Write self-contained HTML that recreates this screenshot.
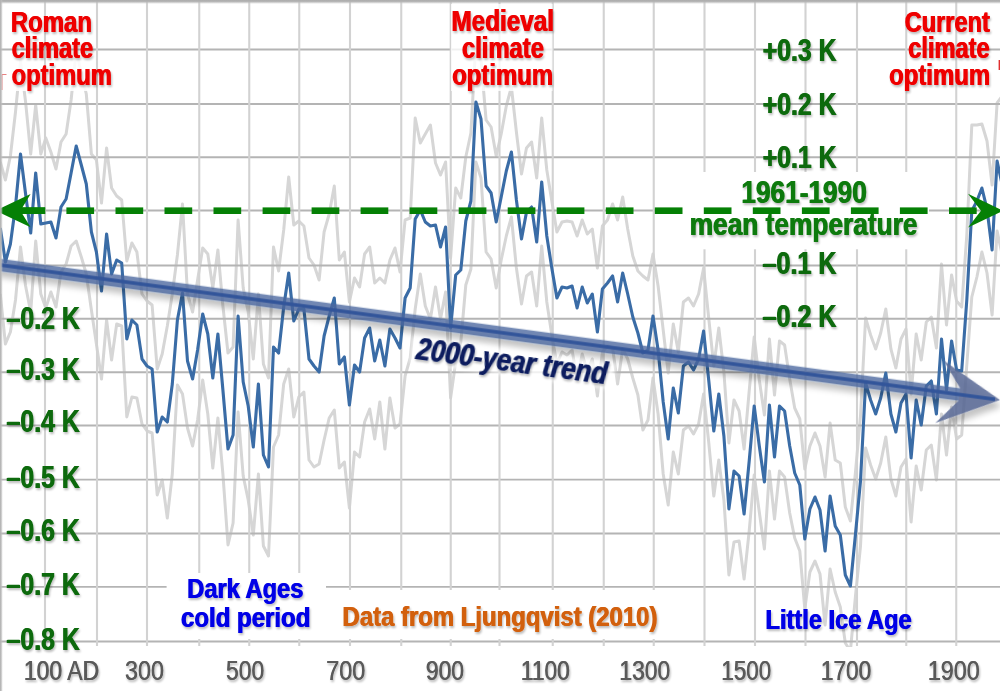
<!DOCTYPE html><html><head><meta charset="utf-8"><title>Chart</title>
<style>html,body{margin:0;padding:0;background:#fff;}body{width:1000px;height:691px;overflow:hidden;}svg{display:block;}text{font-family:"Liberation Sans",sans-serif;}</style></head><body>
<svg width="1000" height="691" viewBox="0 0 1000 691">
<defs>
<filter id="sh" x="-10%" y="-20%" width="120%" height="150%"><feGaussianBlur in="SourceAlpha" stdDeviation="0.9"/><feOffset dx="1.2" dy="1.5"/><feComponentTransfer><feFuncA type="linear" slope="0.27"/></feComponentTransfer><feMerge><feMergeNode/><feMergeNode in="SourceGraphic"/></feMerge></filter>
<filter id="sh2" x="-5%" y="-50%" width="110%" height="250%"><feGaussianBlur in="SourceAlpha" stdDeviation="3"/><feOffset dx="3" dy="6"/><feComponentTransfer><feFuncA type="linear" slope="0.28"/></feComponentTransfer><feMerge><feMergeNode/><feMergeNode in="SourceGraphic"/></feMerge></filter>
<filter id="bl" x="-10%" y="-40%" width="120%" height="180%"><feGaussianBlur stdDeviation="2.2"/></filter>
<linearGradient id="gt" x1="0" y1="0" x2="0" y2="1"><stop offset="0" stop-color="#ababab" stop-opacity="1"/><stop offset="0.45" stop-color="#b4b4b4" stop-opacity="0.95"/><stop offset="1" stop-color="#c8c8c8" stop-opacity="0"/></linearGradient>
<linearGradient id="gl" x1="0" y1="0" x2="1" y2="0"><stop offset="0" stop-color="#b0b0b0" stop-opacity="1"/><stop offset="0.4" stop-color="#b8b8b8" stop-opacity="0.9"/><stop offset="1" stop-color="#cccccc" stop-opacity="0"/></linearGradient>
</defs>
<rect width="1000" height="691" fill="#fff"/>
<polyline points="0.3,162.0 5.4,180.0 10.4,156.0 15.5,112.0 20.5,61.0 25.6,102.0 30.7,154.0 35.7,105.0 40.8,154.0 45.8,138.0 50.9,152.0 56.0,169.0 61.0,142.0 66.1,134.0 71.1,100.0 76.2,51.0 81.3,73.0 86.3,94.0 91.4,154.0 96.4,160.0 101.5,203.0 106.6,148.0 111.6,188.0 116.7,196.0 121.7,200.0 126.8,261.0 131.9,243.0 136.9,252.0 142.0,294.0 147.0,301.0 152.1,305.0 157.2,369.0 162.2,354.0 167.3,326.0 172.3,294.0 177.4,255.0 182.5,204.0 187.5,294.0 192.6,312.0 197.6,280.0 202.7,248.0 207.8,254.0 212.8,288.0 217.9,250.0 222.9,306.0 228.0,353.0 233.1,347.0 238.1,220.0 243.2,288.0 248.2,312.0 253.3,359.0 258.4,294.0 263.4,364.0 268.5,378.0 273.5,247.0 278.6,271.0 283.7,230.0 288.7,177.0 293.8,225.0 298.8,221.0 303.9,226.0 309.0,258.0 314.0,265.0 319.1,280.0 324.1,232.0 329.2,214.0 334.3,186.0 339.3,260.0 344.4,252.0 349.4,302.0 354.5,278.0 359.6,287.0 364.6,254.0 369.7,247.0 374.7,283.0 379.8,278.0 384.9,283.0 389.9,260.0 395.0,248.0 400.0,272.0 405.1,220.0 410.2,218.0 415.2,118.0 420.3,143.0 425.3,134.0 430.4,125.0 435.5,163.0 440.5,175.0 445.6,162.0 450.6,258.0 455.7,188.0 460.8,198.0 465.8,157.0 470.9,133.0 475.9,42.0 481.0,60.0 486.1,120.0 491.1,127.0 496.2,156.0 501.2,134.0 506.3,106.0 511.4,87.0 516.4,132.0 521.5,174.0 526.5,148.0 531.6,142.0 536.7,178.0 541.7,118.0 546.8,170.0 551.8,201.0 556.9,232.0 562.0,222.0 567.0,221.0 572.1,222.0 577.1,236.0 582.2,220.0 587.3,234.0 592.3,229.0 597.4,268.0 602.4,226.0 607.5,220.0 612.6,204.0 617.6,220.0 622.7,197.0 627.7,229.0 632.8,256.0 637.9,271.0 642.9,276.0 648.0,280.0 653.0,254.0 658.1,286.0 663.2,330.0 668.2,373.0 673.3,324.0 678.3,352.0 683.4,302.0 688.5,298.0 693.5,306.0 698.6,294.0 703.6,268.0 708.7,318.0 713.8,366.0 718.8,328.0 723.9,372.0 728.9,443.0 734.0,400.0 739.1,411.0 744.1,449.0 749.2,391.0 754.2,337.0 759.3,380.0 764.4,415.0 769.4,339.0 774.5,395.0 779.5,341.0 784.6,345.0 789.7,379.0 794.7,408.0 799.8,419.0 804.8,469.0 809.9,446.0 815.0,433.0 820.0,446.0 825.1,477.0 830.1,423.0 835.2,460.0 840.3,463.0 845.3,507.0 850.4,521.0 855.4,473.0 860.5,416.0 865.6,318.0 870.6,335.0 875.7,349.0 880.7,333.0 885.8,309.0 890.9,349.0 895.9,368.0 901.0,339.0 906.0,329.0 911.1,394.0 916.2,334.0 921.2,360.0 926.3,322.0 931.3,317.0 936.4,348.0 941.5,264.0 946.5,325.0 951.6,275.0 956.6,301.0 961.7,307.0 966.8,235.0 971.8,125.0 976.9,125.0 981.9,124.0 987.0,141.0 992.1,185.0 997.1,103.0 1002.2,96.0" fill="none" stroke="#d6d6d6" stroke-width="3" stroke-linejoin="round"/>
<polyline points="0.3,294.0 5.4,344.0 10.4,332.0 15.5,300.0 20.5,247.0 25.6,286.0 30.7,312.0 35.7,241.0 40.8,294.0 45.8,308.0 50.9,292.0 56.0,307.0 61.0,272.0 66.1,264.0 71.1,246.0 76.2,241.0 81.3,257.0 86.3,274.0 91.4,310.0 96.4,344.0 101.5,379.0 106.6,320.0 111.6,360.0 116.7,324.0 121.7,326.0 126.8,417.0 131.9,397.0 136.9,398.0 142.0,424.0 147.0,431.0 152.1,433.0 157.2,495.0 162.2,480.0 167.3,518.0 172.3,474.0 177.4,385.0 182.5,394.0 187.5,428.0 192.6,446.0 197.6,420.0 202.7,380.0 207.8,414.0 212.8,468.0 217.9,418.0 222.9,474.0 228.0,545.0 233.1,523.0 238.1,412.0 243.2,476.0 248.2,500.0 253.3,535.0 258.4,474.0 263.4,546.0 268.5,556.0 273.5,447.0 278.6,435.0 283.7,384.0 288.7,369.0 293.8,417.0 298.8,397.0 303.9,392.0 309.0,460.0 314.0,467.0 319.1,464.0 324.1,440.0 329.2,418.0 334.3,410.0 339.3,468.0 344.4,462.0 349.4,508.0 354.5,452.0 359.6,457.0 364.6,422.0 369.7,409.0 374.7,439.0 379.8,402.0 384.9,449.0 389.9,398.0 395.0,428.0 400.0,424.0 405.1,376.0 410.2,358.0 415.2,309.0 420.3,274.0 425.3,306.0 430.4,319.0 435.5,287.0 440.5,319.0 445.6,292.0 450.6,398.0 455.7,362.0 460.8,342.0 465.8,285.0 470.9,269.0 475.9,162.0 481.0,178.0 486.1,252.0 491.1,259.0 496.2,288.0 501.2,260.0 506.3,236.0 511.4,217.0 516.4,268.0 521.5,304.0 526.5,276.0 531.6,272.0 536.7,306.0 541.7,246.0 546.8,302.0 551.8,335.0 556.9,364.0 562.0,352.0 567.0,355.0 572.1,350.0 577.1,380.0 582.2,354.0 587.3,372.0 592.3,359.0 597.4,396.0 602.4,352.0 607.5,346.0 612.6,348.0 617.6,384.0 622.7,349.0 627.7,359.0 632.8,378.0 637.9,395.0 642.9,430.0 648.0,420.0 653.0,378.0 658.1,414.0 663.2,474.0 668.2,505.0 673.3,452.0 678.3,474.0 683.4,430.0 688.5,426.0 693.5,434.0 698.6,424.0 703.6,394.0 708.7,442.0 713.8,496.0 718.8,460.0 723.9,500.0 728.9,575.0 734.0,542.0 739.1,541.0 744.1,579.0 749.2,531.0 754.2,475.0 759.3,512.0 764.4,549.0 769.4,471.0 774.5,519.0 779.5,471.0 784.6,477.0 789.7,513.0 794.7,538.0 799.8,551.0 804.8,609.0 809.9,572.0 815.0,561.0 820.0,574.0 825.1,625.0 830.1,569.0 835.2,592.0 840.3,607.0 845.3,643.0 850.4,651.0 855.4,597.0 860.5,546.0 865.6,448.0 870.6,465.0 875.7,479.0 880.7,463.0 885.8,437.0 890.9,479.0 895.9,496.0 901.0,467.0 906.0,459.0 911.1,522.0 916.2,466.0 921.2,490.0 926.3,450.0 931.3,445.0 936.4,480.0 941.5,414.0 946.5,455.0 951.6,407.0 956.6,439.0 961.7,435.0 966.8,365.0 971.8,297.0 976.9,277.0 981.9,252.0 987.0,273.0 992.1,315.0 997.1,231.0 1002.2,255.0" fill="none" stroke="#d6d6d6" stroke-width="3" stroke-linejoin="round"/>
<rect x="4" y="4" width="112" height="87" fill="#fff" fill-opacity="0.88"/>
<rect x="884" y="4" width="116" height="87" fill="#fff" fill-opacity="0.88"/>
<g stroke="#b4b4b4" stroke-width="1.9" fill="none">
<line x1="0" y1="49.5" x2="1000" y2="49.5"/>
<line x1="0" y1="104.0" x2="1000" y2="104.0"/>
<line x1="0" y1="157.3" x2="1000" y2="157.3"/>
<line x1="0" y1="210.5" x2="1000" y2="210.5"/>
<line x1="0" y1="265.5" x2="1000" y2="265.5"/>
<line x1="0" y1="318.8" x2="1000" y2="318.8"/>
<line x1="0" y1="372.2" x2="1000" y2="372.2"/>
<line x1="0" y1="425.5" x2="1000" y2="425.5"/>
<line x1="0" y1="479.6" x2="1000" y2="479.6"/>
<line x1="0" y1="533.5" x2="1000" y2="533.5"/>
<line x1="0" y1="586.9" x2="1000" y2="586.9"/>
<line x1="0" y1="641.5" x2="1000" y2="641.5"/>
</g>
<g stroke="#d2d2d2" stroke-width="2.1" fill="none">
<line x1="45" y1="0" x2="45" y2="646"/>
<line x1="97" y1="0" x2="97" y2="646"/>
<line x1="147" y1="0" x2="147" y2="646"/>
<line x1="199.25" y1="0" x2="199.25" y2="646"/>
<line x1="249.25" y1="0" x2="249.25" y2="646"/>
<line x1="299.25" y1="0" x2="299.25" y2="646"/>
<line x1="350" y1="0" x2="350" y2="646"/>
<line x1="401.25" y1="0" x2="401.25" y2="646"/>
<line x1="450.75" y1="0" x2="450.75" y2="646"/>
<line x1="499.5" y1="0" x2="499.5" y2="646"/>
<line x1="552.75" y1="0" x2="552.75" y2="646"/>
<line x1="603.75" y1="0" x2="603.75" y2="646"/>
<line x1="653.75" y1="0" x2="653.75" y2="646"/>
<line x1="704.5" y1="0" x2="704.5" y2="646"/>
<line x1="755" y1="0" x2="755" y2="646"/>
<line x1="805.5" y1="0" x2="805.5" y2="646"/>
<line x1="857" y1="0" x2="857" y2="646"/>
<line x1="906.25" y1="0" x2="906.25" y2="646"/>
<line x1="956.25" y1="0" x2="956.25" y2="646"/>
</g>
<rect x="451" y="4" width="101.5" height="87" fill="#fff" fill-opacity="0.8"/>
<rect x="655" y="172" width="274" height="77.3" fill="#fff" fill-opacity="1"/>
<rect x="166.6" y="573" width="159.4" height="66" fill="#fff" fill-opacity="1"/>
<rect x="330" y="590" width="336" height="49" fill="#fff" fill-opacity="1"/>
<rect x="0" y="647" width="1000" height="44" fill="#fff"/>
<polyline points="0.3,228.0 5.4,262.0 10.4,244.0 15.5,206.0 20.5,154.0 25.6,194.0 30.7,233.0 35.7,173.0 40.8,224.0 45.8,223.0 50.9,222.0 56.0,238.0 61.0,207.0 66.1,199.0 71.1,173.0 76.2,146.0 81.3,165.0 86.3,184.0 91.4,232.0 96.4,252.0 101.5,291.0 106.6,234.0 111.6,274.0 116.7,260.0 121.7,263.0 126.8,339.0 131.9,320.0 136.9,325.0 142.0,359.0 147.0,366.0 152.1,369.0 157.2,432.0 162.2,417.0 167.3,422.0 172.3,384.0 177.4,320.0 182.5,293.0 187.5,361.0 192.6,379.0 197.6,350.0 202.7,314.0 207.8,334.0 212.8,378.0 217.9,334.0 222.9,390.0 228.0,449.0 233.1,435.0 238.1,316.0 243.2,382.0 248.2,406.0 253.3,447.0 258.4,384.0 263.4,455.0 268.5,467.0 273.5,347.0 278.6,353.0 283.7,307.0 288.7,273.0 293.8,321.0 298.8,309.0 303.9,309.0 309.0,359.0 314.0,366.0 319.1,372.0 324.1,336.0 329.2,316.0 334.3,298.0 339.3,364.0 344.4,357.0 349.4,405.0 354.5,365.0 359.6,372.0 364.6,338.0 369.7,328.0 374.7,361.0 379.8,340.0 384.9,366.0 389.9,329.0 395.0,338.0 400.0,348.0 405.1,298.0 410.2,288.0 415.2,219.0 420.3,210.0 425.3,222.0 430.4,226.0 435.5,225.0 440.5,247.0 445.6,227.0 450.6,328.0 455.7,275.0 460.8,270.0 465.8,221.0 470.9,201.0 475.9,102.0 481.0,119.0 486.1,186.0 491.1,193.0 496.2,222.0 501.2,197.0 506.3,171.0 511.4,152.0 516.4,200.0 521.5,239.0 526.5,212.0 531.6,207.0 536.7,242.0 541.7,182.0 546.8,236.0 551.8,268.0 556.9,298.0 562.0,287.0 567.0,288.0 572.1,286.0 577.1,308.0 582.2,287.0 587.3,303.0 592.3,294.0 597.4,332.0 602.4,289.0 607.5,283.0 612.6,276.0 617.6,302.0 622.7,273.0 627.7,294.0 632.8,317.0 637.9,333.0 642.9,353.0 648.0,350.0 653.0,316.0 658.1,350.0 663.2,402.0 668.2,439.0 673.3,388.0 678.3,413.0 683.4,366.0 688.5,362.0 693.5,370.0 698.6,359.0 703.6,331.0 708.7,380.0 713.8,431.0 718.8,394.0 723.9,436.0 728.9,509.0 734.0,471.0 739.1,476.0 744.1,514.0 749.2,461.0 754.2,406.0 759.3,446.0 764.4,482.0 769.4,405.0 774.5,457.0 779.5,406.0 784.6,411.0 789.7,446.0 794.7,473.0 799.8,485.0 804.8,539.0 809.9,509.0 815.0,497.0 820.0,510.0 825.1,551.0 830.1,496.0 835.2,526.0 840.3,535.0 845.3,575.0 850.4,586.0 855.4,535.0 860.5,481.0 865.6,383.0 870.6,400.0 875.7,414.0 880.7,398.0 885.8,373.0 890.9,414.0 895.9,432.0 901.0,403.0 906.0,394.0 911.1,458.0 916.2,400.0 921.2,425.0 926.3,386.0 931.3,381.0 936.4,414.0 941.5,339.0 946.5,390.0 951.6,341.0 956.6,370.0 961.7,371.0 966.8,300.0 971.8,211.0 976.9,201.0 981.9,188.0 987.0,209.0 992.1,250.0 997.1,161.0 1002.2,185.0" fill="none" stroke="#3a6ca6" stroke-width="3.1" stroke-linejoin="round"/>
<g transform="translate(1000,400) rotate(7.688)" filter="url(#sh2)">
<polygon points="-41,-6.2 -1019,-6.2 -1019,6.2 -41,6.2" fill="#4a679f" fill-opacity="0.78"/>
<polygon points="0,0 -61,-31.5 -41,-6.2 -41,6.2 -61,31.5" fill="#586996" fill-opacity="0.84"/>
<line x1="-1019" y1="0" x2="-5" y2="0" stroke="#30559a" stroke-width="3.6"/>
</g>
<g fill="#058005" stroke="none">
<rect x="17.4" y="207.4" width="27.7" height="6.6"/>
<rect x="66.4" y="207.4" width="27.7" height="6.6"/>
<rect x="115.5" y="207.4" width="27.7" height="6.6"/>
<rect x="164.5" y="207.4" width="27.7" height="6.6"/>
<rect x="213.5" y="207.4" width="27.7" height="6.6"/>
<rect x="262.6" y="207.4" width="27.7" height="6.6"/>
<rect x="311.6" y="207.4" width="27.7" height="6.6"/>
<rect x="360.6" y="207.4" width="27.7" height="6.6"/>
<rect x="409.6" y="207.4" width="27.7" height="6.6"/>
<rect x="458.7" y="207.4" width="27.7" height="6.6"/>
<rect x="507.7" y="207.4" width="27.7" height="6.6"/>
<rect x="556.7" y="207.4" width="27.7" height="6.6"/>
<rect x="605.8" y="207.4" width="27.7" height="6.6"/>
<rect x="654.8" y="207.4" width="27.7" height="6.6"/>
<rect x="703.8" y="207.4" width="27.7" height="6.6"/>
<rect x="752.8" y="207.4" width="27.7" height="6.6"/>
<rect x="801.9" y="207.4" width="27.7" height="6.6"/>
<rect x="850.9" y="207.4" width="27.7" height="6.6"/>
<rect x="899.9" y="207.4" width="27.7" height="6.6"/>
<rect x="949.0" y="207.4" width="27.7" height="6.6"/>
<polygon points="-4.5,210.7 30.6,194 20.4,210.7 30.6,227.3"/>
<polygon points="1003.2,210.7 968,193.7 981,210.7 968,227.5"/>
<rect x="19" y="207.4" width="26.2" height="6.6"/>
</g>
<g filter="url(#sh)" font-size="29.6" font-weight="bold" font-style="normal" fill="#ee0000"><text transform="translate(10.40,32.10) scale(0.8090,1)">Roman</text><text transform="translate(11.30,32.10) scale(0.8090,1)">Roman</text></g>
<g filter="url(#sh)" font-size="29.6" font-weight="bold" font-style="normal" fill="#ee0000"><text transform="translate(11.16,58.20) scale(0.8002,1)">climate</text><text transform="translate(12.06,58.20) scale(0.8002,1)">climate</text></g>
<g filter="url(#sh)" font-size="29.6" font-weight="bold" font-style="normal" fill="#ee0000"><text transform="translate(11.16,84.90) scale(0.8034,1)">optimum</text><text transform="translate(12.06,84.90) scale(0.8034,1)">optimum</text></g>
<g filter="url(#sh)" font-size="29.6" font-weight="bold" font-style="normal" fill="#ee0000"><text transform="translate(450.98,31.40) scale(0.8210,1)">Medieval</text><text transform="translate(451.88,31.40) scale(0.8210,1)">Medieval</text></g>
<g filter="url(#sh)" font-size="29.6" font-weight="bold" font-style="normal" fill="#ee0000"><text transform="translate(461.56,57.80) scale(0.8032,1)">climate</text><text transform="translate(462.46,57.80) scale(0.8032,1)">climate</text></g>
<g filter="url(#sh)" font-size="29.6" font-weight="bold" font-style="normal" fill="#ee0000"><text transform="translate(451.75,84.50) scale(0.8083,1)">optimum</text><text transform="translate(452.65,84.50) scale(0.8083,1)">optimum</text></g>
<g filter="url(#sh)" font-size="29.6" font-weight="bold" font-style="normal" fill="#ee0000"><text transform="translate(904.26,31.90) scale(0.7966,1)">Current</text><text transform="translate(905.16,31.90) scale(0.7966,1)">Current</text></g>
<g filter="url(#sh)" font-size="29.6" font-weight="bold" font-style="normal" fill="#ee0000"><text transform="translate(907.76,58.20) scale(0.7992,1)">climate</text><text transform="translate(908.66,58.20) scale(0.7992,1)">climate</text></g>
<g filter="url(#sh)" font-size="29.6" font-weight="bold" font-style="normal" fill="#ee0000"><text transform="translate(888.65,85.00) scale(0.8091,1)">optimum</text><text transform="translate(889.55,85.00) scale(0.8091,1)">optimum</text></g>
<g filter="url(#sh)" font-size="31" font-weight="bold" font-style="normal" fill="#0e6a0e"><text transform="translate(762.32,60.60) scale(0.8000,1)">+0.3 K</text><text transform="translate(763.22,60.60) scale(0.8000,1)">+0.3 K</text></g>
<g filter="url(#sh)" font-size="31" font-weight="bold" font-style="normal" fill="#0e6a0e"><text transform="translate(762.32,115.40) scale(0.8000,1)">+0.2 K</text><text transform="translate(763.22,115.40) scale(0.8000,1)">+0.2 K</text></g>
<g filter="url(#sh)" font-size="31" font-weight="bold" font-style="normal" fill="#0e6a0e"><text transform="translate(762.32,168.10) scale(0.8000,1)">+0.1 K</text><text transform="translate(763.22,168.10) scale(0.8000,1)">+0.1 K</text></g>
<g filter="url(#sh)" font-size="31" font-weight="bold" font-style="normal" fill="#0e6a0e"><text transform="translate(762.11,274.40) scale(0.8100,1)">–0.1 K</text><text transform="translate(763.01,274.40) scale(0.8100,1)">–0.1 K</text></g>
<g filter="url(#sh)" font-size="31" font-weight="bold" font-style="normal" fill="#0e6a0e"><text transform="translate(762.11,326.90) scale(0.8100,1)">–0.2 K</text><text transform="translate(763.01,326.90) scale(0.8100,1)">–0.2 K</text></g>
<g filter="url(#sh)" font-size="32" font-weight="bold" font-style="normal" fill="#0c7a0c"><text transform="translate(740.96,202.90) scale(0.8195,1)">1961-1990</text><text transform="translate(741.86,202.90) scale(0.8195,1)">1961-1990</text></g>
<g filter="url(#sh)" font-size="32" font-weight="bold" font-style="normal" fill="#0c7a0c"><text transform="translate(689.26,235.40) scale(0.8218,1)">mean temperature</text><text transform="translate(690.16,235.40) scale(0.8218,1)">mean temperature</text></g>
<g filter="url(#sh)" font-size="31" font-weight="bold" font-style="normal" fill="#0e6a0e"><text transform="translate(6.11,328.50) scale(0.8023,1)">–0.2 K</text><text transform="translate(7.01,328.50) scale(0.8023,1)">–0.2 K</text></g>
<g filter="url(#sh)" font-size="31" font-weight="bold" font-style="normal" fill="#0e6a0e"><text transform="translate(6.11,379.50) scale(0.8023,1)">–0.3 K</text><text transform="translate(7.01,379.50) scale(0.8023,1)">–0.3 K</text></g>
<g filter="url(#sh)" font-size="31" font-weight="bold" font-style="normal" fill="#0e6a0e"><text transform="translate(6.11,432.30) scale(0.8023,1)">–0.4 K</text><text transform="translate(7.01,432.30) scale(0.8023,1)">–0.4 K</text></g>
<g filter="url(#sh)" font-size="31" font-weight="bold" font-style="normal" fill="#0e6a0e"><text transform="translate(6.11,488.00) scale(0.8023,1)">–0.5 K</text><text transform="translate(7.01,488.00) scale(0.8023,1)">–0.5 K</text></g>
<g filter="url(#sh)" font-size="31" font-weight="bold" font-style="normal" fill="#0e6a0e"><text transform="translate(6.11,541.00) scale(0.8023,1)">–0.6 K</text><text transform="translate(7.01,541.00) scale(0.8023,1)">–0.6 K</text></g>
<g filter="url(#sh)" font-size="31" font-weight="bold" font-style="normal" fill="#0e6a0e"><text transform="translate(6.11,594.80) scale(0.8023,1)">–0.7 K</text><text transform="translate(7.01,594.80) scale(0.8023,1)">–0.7 K</text></g>
<g filter="url(#sh)" font-size="31" font-weight="bold" font-style="normal" fill="#0e6a0e"><text transform="translate(6.11,649.50) scale(0.8023,1)">–0.8 K</text><text transform="translate(7.01,649.50) scale(0.8023,1)">–0.8 K</text></g>
<g filter="url(#sh)" font-size="27.6" font-weight="bold" font-style="normal" fill="#0000e6"><text transform="translate(186.82,598.00) scale(0.8572,1)">Dark Ages</text><text transform="translate(187.72,598.00) scale(0.8572,1)">Dark Ages</text></g>
<g filter="url(#sh)" font-size="27.6" font-weight="bold" font-style="normal" fill="#0000e6"><text transform="translate(180.55,626.80) scale(0.8706,1)">cold period</text><text transform="translate(181.45,626.80) scale(0.8706,1)">cold period</text></g>
<g filter="url(#sh)" font-size="27" font-weight="bold" font-style="normal" fill="#d2600f"><text transform="translate(342.11,625.60) scale(0.8855,1)">Data from Ljungqvist (2010)</text><text transform="translate(343.01,625.60) scale(0.8855,1)">Data from Ljungqvist (2010)</text></g>
<g filter="url(#sh)" font-size="27.2" font-weight="bold" font-style="normal" fill="#0000e6"><text transform="translate(765.12,629.40) scale(0.8682,1)">Little Ice Age</text><text transform="translate(766.02,629.40) scale(0.8682,1)">Little Ice Age</text></g>
<g filter="url(#sh)" font-size="28.5" font-weight="normal" font-style="normal" fill="#5a5a5a"><text transform="translate(124.77,680.30) scale(0.8183,1)">300</text><text transform="translate(125.37,680.30) scale(0.8183,1)">300</text></g>
<g filter="url(#sh)" font-size="28.5" font-weight="normal" font-style="normal" fill="#5a5a5a"><text transform="translate(225.68,680.30) scale(0.8052,1)">500</text><text transform="translate(226.28,680.30) scale(0.8052,1)">500</text></g>
<g filter="url(#sh)" font-size="28.5" font-weight="normal" font-style="normal" fill="#5a5a5a"><text transform="translate(325.90,680.30) scale(0.8219,1)">700</text><text transform="translate(326.50,680.30) scale(0.8219,1)">700</text></g>
<g filter="url(#sh)" font-size="28.5" font-weight="normal" font-style="normal" fill="#5a5a5a"><text transform="translate(425.53,680.30) scale(0.8043,1)">900</text><text transform="translate(426.13,680.30) scale(0.8043,1)">900</text></g>
<g filter="url(#sh)" font-size="28.5" font-weight="normal" font-style="normal" fill="#5a5a5a"><text transform="translate(520.58,680.30) scale(0.7977,1)">1100</text><text transform="translate(521.18,680.30) scale(0.7977,1)">1100</text></g>
<g filter="url(#sh)" font-size="28.5" font-weight="normal" font-style="normal" fill="#5a5a5a"><text transform="translate(619.07,680.30) scale(0.8028,1)">1300</text><text transform="translate(619.67,680.30) scale(0.8028,1)">1300</text></g>
<g filter="url(#sh)" font-size="28.5" font-weight="normal" font-style="normal" fill="#5a5a5a"><text transform="translate(721.10,680.30) scale(0.7864,1)">1500</text><text transform="translate(721.70,680.30) scale(0.7864,1)">1500</text></g>
<g filter="url(#sh)" font-size="28.5" font-weight="normal" font-style="normal" fill="#5a5a5a"><text transform="translate(820.58,680.30) scale(0.7946,1)">1700</text><text transform="translate(821.18,680.30) scale(0.7946,1)">1700</text></g>
<g filter="url(#sh)" font-size="28.5" font-weight="normal" font-style="normal" fill="#5a5a5a"><text transform="translate(927.54,680.30) scale(0.8192,1)">1900</text><text transform="translate(928.14,680.30) scale(0.8192,1)">1900</text></g>
<g filter="url(#sh)" font-size="28.5" font-weight="normal" font-style="normal" fill="#5a5a5a"><text transform="translate(23.56,680.30) scale(0.8061,1)">100 AD</text><text transform="translate(24.16,680.30) scale(0.8061,1)">100 AD</text></g>
<g transform="translate(414.4,358.9) rotate(7.55)"><rect x="-4" y="-21" width="204" height="25" fill="#fff" fill-opacity="0.8" filter="url(#bl)"/><g filter="url(#sh)" font-size="31" font-weight="bold" font-style="italic" fill="#0b1f5e"><text transform="translate(0.41,0.00) scale(0.8396,1)">2000-year trend</text><text transform="translate(1.31,0.00) scale(0.8396,1)">2000-year trend</text></g></g>
<path d="M2 90V74.5H6.5" stroke="#e88080" stroke-width="1" fill="none"/>
<rect x="998.6" y="60" width="1.4" height="10" fill="#e03030"/>
<rect x="0" y="0" width="1000" height="4" fill="url(#gt)"/>
<rect x="0" y="0" width="2.9" height="691" fill="url(#gl)"/>
</svg></body></html>
